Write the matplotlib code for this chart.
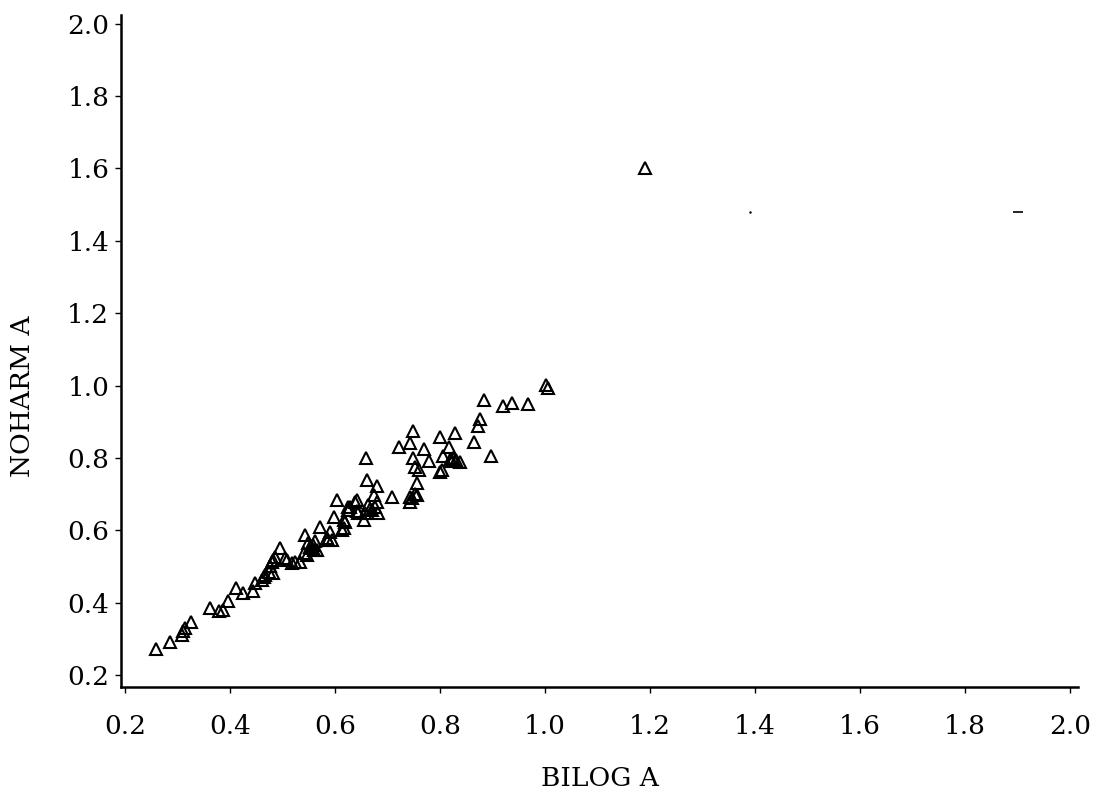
import numpy as np
import matplotlib
matplotlib.use("Agg")
import matplotlib.pyplot as plt

# BILOG vs NOHARM "a" parameter estimates
bilog_a = [
    0.258, 0.286, 0.309, 0.311, 0.313, 0.326, 0.362, 0.378, 0.387, 0.395,
    0.411, 0.424, 0.444, 0.448, 0.460, 0.465, 0.467, 0.473, 0.476, 0.479,
    0.482, 0.486, 0.482, 0.494, 0.505, 0.508, 0.518, 0.524, 0.533, 0.540,
    0.546, 0.543, 0.549, 0.552, 0.556, 0.558, 0.562, 0.565, 0.560, 0.571,
    0.584, 0.587, 0.590, 0.594, 0.597, 0.603, 0.613, 0.616, 0.616, 0.619,
    0.625, 0.625, 0.629, 0.638, 0.641, 0.641, 0.644, 0.654, 0.657, 0.660,
    0.658, 0.663, 0.667, 0.670, 0.673, 0.676, 0.679, 0.679, 0.682, 0.708,
    0.721, 0.742, 0.743, 0.743, 0.746, 0.749, 0.749, 0.752, 0.752, 0.756,
    0.756, 0.759, 0.770, 0.778, 0.800, 0.800, 0.803, 0.806, 0.816, 0.819,
    0.823, 0.825, 0.829, 0.831, 0.838, 0.865, 0.873, 0.876, 0.884, 0.897,
    0.920, 0.936, 0.968, 1.002, 1.006, 1.190,
]
noharm_a = [
    0.271, 0.291, 0.312, 0.322, 0.330, 0.346, 0.384, 0.378, 0.380, 0.405,
    0.440, 0.426, 0.432, 0.454, 0.463, 0.470, 0.476, 0.486, 0.500, 0.513,
    0.482, 0.527, 0.518, 0.550, 0.523, 0.518, 0.509, 0.513, 0.513, 0.536,
    0.532, 0.587, 0.564, 0.555, 0.550, 0.560, 0.569, 0.546, 0.545, 0.610,
    0.578, 0.573, 0.596, 0.573, 0.638, 0.684, 0.600, 0.606, 0.628, 0.624,
    0.656, 0.665, 0.665, 0.679, 0.684, 0.652, 0.648, 0.628, 0.648, 0.739,
    0.799, 0.670, 0.660, 0.656, 0.698, 0.665, 0.679, 0.721, 0.648, 0.693,
    0.831, 0.841, 0.679, 0.693, 0.690, 0.873, 0.799, 0.700, 0.774, 0.698,
    0.730, 0.767, 0.824, 0.792, 0.857, 0.762, 0.767, 0.804, 0.830, 0.795,
    0.792, 0.800, 0.868, 0.795, 0.790, 0.845, 0.888, 0.907, 0.960, 0.804,
    0.944, 0.953, 0.949, 1.002, 0.993, 1.600,
]

# stray specks in the scan
speck_x = [1.39, 1.901]
speck_y = [1.48, 1.48]

ticks = [0.2, 0.4, 0.6, 0.8, 1.0, 1.2, 1.4, 1.6, 1.8, 2.0]

plt.rcParams['font.family'] = ['DejaVu Serif']

fig = plt.figure(figsize=(11, 7.92), dpi=100)
ax = fig.add_axes([0.11, 0.1326, 0.87, 0.849])

ax.plot(bilog_a, noharm_a, linestyle='none', marker='^', markersize=9,
        markerfacecolor='none', markeredgecolor='black', markeredgewidth=1.5)
ax.plot(speck_x[:1], speck_y[:1], linestyle='none', marker='.', markersize=1.5, color='black')
ax.plot(speck_x[1:], speck_y[1:], linestyle='none', marker='_', markersize=7,
        markeredgewidth=1.2, color='black')

ax.set_xlim(0.192, 2.015)
ax.set_ylim(0.167, 2.025)
ax.set_xticks(ticks)
ax.set_yticks(ticks)
ax.set_xticklabels([f'{t:.1f}' for t in ticks])
ax.set_yticklabels([f'{t:.1f}' for t in ticks])

for side in ['top', 'right']:
    ax.spines[side].set_visible(False)
for side in ['left', 'bottom']:
    ax.spines[side].set_linewidth(1.8)

ax.tick_params(direction='out', length=4.5, width=1.0, labelsize=19)
ax.tick_params(axis='x', pad=15)
ax.tick_params(axis='y', pad=4)

ax.set_xlabel('BILOG A', fontsize=19)
ax.set_ylabel('NOHARM A', fontsize=19)
ax.xaxis.set_label_coords(0.5, -0.1176)
ax.yaxis.set_label_coords(-0.09, 0.432)

fig.savefig('out.png', dpi=100)
